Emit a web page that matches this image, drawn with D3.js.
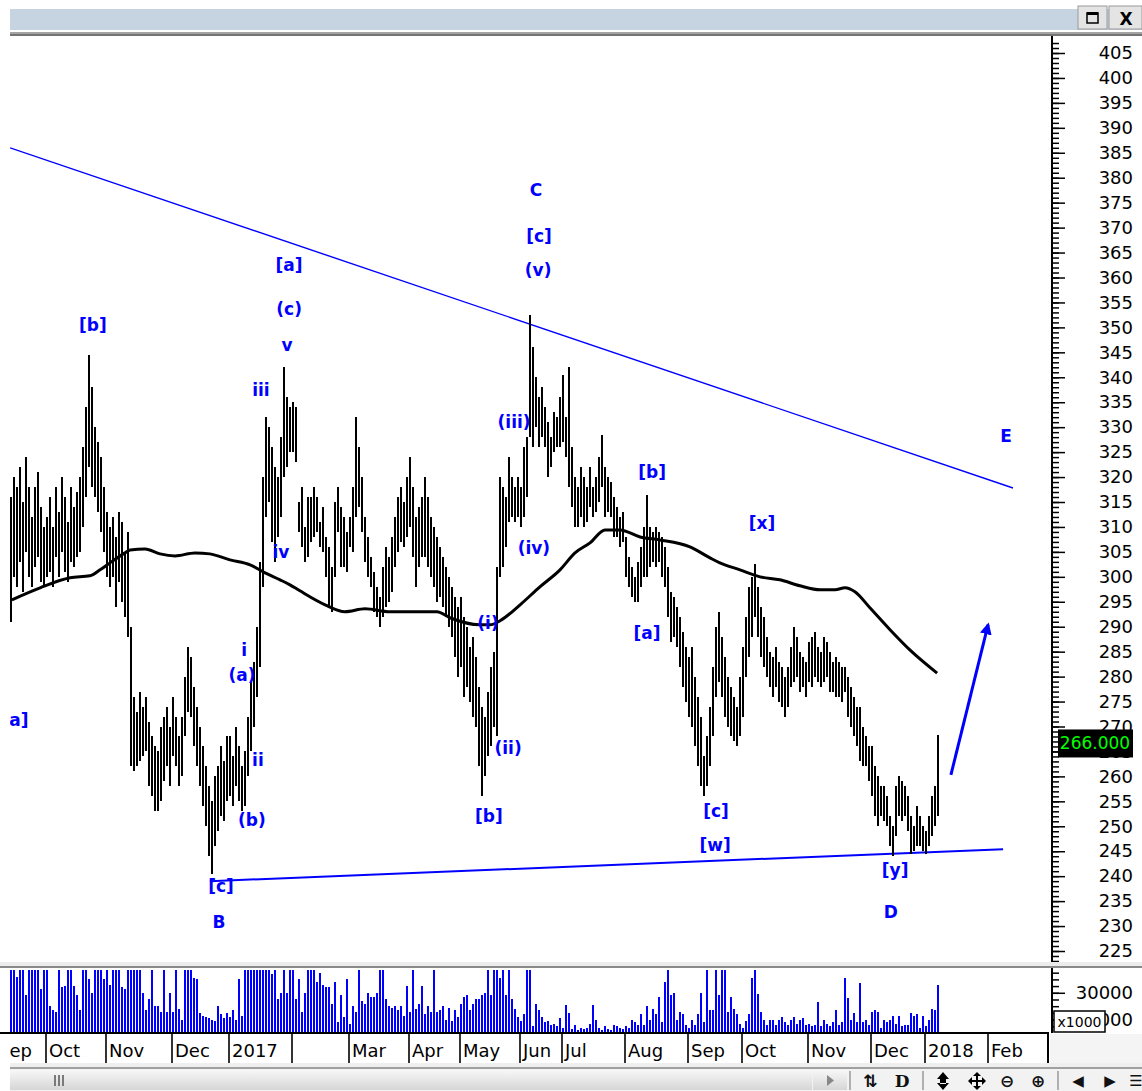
<!DOCTYPE html>
<html>
<head>
<meta charset="utf-8">
<script src="https://cdn.jsdelivr.net/npm/d3@7"></script>
<style>
  body { margin: 0; background: #fff; }
  svg { display: block; font-family: 'DejaVu Sans', sans-serif; }
</style>
</head>
<body>
<svg id="chart"></svg>
<script>
// daily bars, Sep 2016 .. early Jan 2018 (one entry per trading day)
const barHigh = [
  316, 320, 318, 322, 315, 324, 318, 312, 318, 321, 314, 310,
  312, 316, 310, 318, 313, 320, 316, 311, 318, 314, 317, 320, 326, 334, 344.5, 338, 330, 327, 324, 318,
  313, 310, 312, 308, 313, 311, 305, 309, 290, 276, 273, 277, 274, 276, 271, 268, 266, 265, 270, 272, 274, 270,
  276, 272, 268, 272, 280, 286, 284, 278, 274, 270, 266, 262, 258, 255, 260, 262, 266, 263, 268,
  268, 264, 270, 266, 262, 265, 272, 279, 283, 290, 303, 320, 332, 330, 326, 322, 320, 328, 342, 336, 334,
  335, 334, 315, 318, 310, 316, 316, 318, 316, 311, 314, 308, 306, 302, 315, 318, 314, 312, 309,
  312, 318, 332, 326, 320, 312, 308, 304, 301, 298, 296, 302, 306, 304, 308, 312, 316, 318, 315, 320,
  324, 318, 312, 314, 316, 320, 316, 312, 310, 308, 306, 304, 302, 300, 298, 296, 294,
  296, 292, 290, 286, 288, 284, 278, 274, 272, 277, 282, 285, 302, 320, 318, 316, 324, 320, 318, 320,
  318, 326, 328, 352.5, 346, 340, 336, 338, 334, 331, 328, 333, 332, 336,
  340.5, 332, 342, 326, 320, 318, 322, 320, 318, 322, 318, 320, 324, 328.5, 322, 320, 319, 316, 314, 312, 313,
  308, 304, 302, 300, 303, 306, 310, 316.5, 310, 309, 310, 309, 308, 306, 302, 297, 296, 294, 292, 289, 286,
  284, 286, 280, 276, 272, 264, 268, 274, 282, 290, 293, 288, 284, 280, 278, 276, 274, 280,
  286, 292, 298, 300, 302.5, 298, 294, 292, 288, 285, 284, 286, 283, 282, 280, 282, 286, 290, 288, 285, 284, 283,
  287, 288, 289, 286, 285, 288, 287, 285, 283, 284, 283, 282, 282, 280, 278, 276, 274, 274, 270, 268, 266,
  266, 262, 260, 258, 258, 256, 252, 250, 258, 260, 259, 258, 256, 252, 250, 254, 252, 250,
  249, 252, 256, 258, 268.3
];
const barLow = [
  291, 300, 298, 303, 297, 305, 300, 298, 302, 304, 299, 298,
  300, 301, 298, 304, 300, 305, 301, 299, 303, 302, 304, 305, 310, 316, 322, 318, 316, 313, 309, 305,
  300, 298, 300, 294, 299, 295, 292, 288, 262, 261, 262, 263, 264, 265, 258, 256, 253, 253, 255, 259, 262, 258,
  264, 262, 258, 260, 268, 273, 272, 266, 262, 258, 254, 250, 244, 240.5, 246, 249, 252, 251, 255,
  256, 254, 258, 255, 253, 254, 260, 265, 270, 276, 282, 298, 312, 315, 307, 303, 308, 312, 320, 322, 325,
  325, 323, 309, 306, 303, 304, 307, 308, 309, 306, 305, 300, 294, 293, 300, 309, 302, 302, 301,
  306, 305, 312, 314, 309, 303, 300, 298, 293, 292, 290, 292, 294, 295, 297, 302, 305, 307, 306, 308,
  310, 304, 298, 302, 304, 304, 302, 300, 298, 295, 296, 294, 292, 290, 288, 284, 280,
  282, 276, 278, 275, 272, 270, 262, 256, 260, 264, 266, 270, 268, 300, 302, 306, 311, 312, 311, 312,
  310, 312, 316, 328, 326, 330, 326, 328, 326, 320, 322, 325, 326, 326,
  327, 324, 318, 314, 310, 310, 312, 310, 311, 314, 312, 313, 315, 318, 312, 313, 312, 308, 308, 306, 307,
  300, 298, 296, 295, 295, 298, 300, 300, 302, 303, 302, 303, 300, 298, 292, 287, 288, 286, 282, 278, 275,
  272, 270, 266, 262, 258, 256, 258, 262, 268, 276, 279, 276, 272, 270, 268, 267, 266, 268,
  272, 280, 284, 288, 292, 288, 284, 282, 280, 278, 276, 278, 275, 274, 272, 274, 278, 279, 280, 277, 278, 276,
  279, 278, 280, 279, 278, 279, 280, 277, 277, 276, 276, 275, 277, 272, 270, 268, 266, 263, 262, 262, 259,
  256, 252, 250, 252, 251, 250, 246, 244, 248, 252, 251, 252, 249, 244.5, 245, 246, 246, 245,
  244.5, 246, 248, 250, 252
];
// volume in thousands
const barVol = [
  47, 47, 42, 47, 47, 28, 47, 47, 47, 47, 33, 47,
  47, 20, 17, 16, 47, 34, 35, 47, 47, 35, 28, 17, 47, 47, 40, 30, 47, 47, 47, 40,
  47, 36, 47, 47, 47, 34, 33, 47, 47, 47, 47, 47, 30, 17, 25, 47, 20, 20, 16, 47, 16, 30,
  16, 47, 18, 10, 47, 47, 47, 41, 40, 15, 13, 12, 11, 10, 9, 20, 14, 11, 15,
  12, 17, 10, 40, 13, 47, 47, 47, 47, 47, 47, 47, 47, 47, 44, 47, 25, 30, 47, 30, 47,
  47, 25, 40, 16, 30, 47, 47, 47, 38, 45, 36, 34, 34, 22, 38, 8, 28, 12, 40,
  7, 20, 16, 47, 24, 22, 30, 27, 27, 30, 47, 47, 25, 20, 19, 20, 17, 20, 13, 35,
  16, 47, 18, 22, 35, 14, 20, 16, 47, 16, 17, 20, 10, 19, 9, 17, 12,
  22, 27, 28, 17, 22, 25, 25, 28, 30, 47, 28, 47, 47, 41, 47, 28, 47, 25, 18, 12,
  9, 14, 47, 47, 5, 22, 17, 12, 8, 9, 6, 7, 5, 11,
  4, 21, 15, 3, 6, 2, 4, 3, 4, 7, 21, 10, 4, 2, 5, 3, 2, 6, 5, 4, 3,
  5, 4, 10, 8, 6, 14, 6, 20, 10, 18, 14, 27, 8, 38, 47, 28, 30, 10, 16, 14, 6,
  4, 10, 6, 14, 30, 8, 47, 17, 17, 47, 28, 47, 47, 16, 27, 18, 14, 7,
  4, 9, 14, 41, 47, 29, 16, 10, 6, 10, 10, 6, 10, 12, 8, 6, 10, 12, 7, 10, 11, 6,
  7, 5, 6, 23, 5, 10, 7, 5, 8, 17, 6, 8, 41, 26, 10, 15, 8, 37, 8, 10, 6,
  16, 17, 16, 4, 10, 8, 10, 13, 7, 13, 5, 6, 6, 15, 13, 14, 4, 13,
  5, 10, 18, 17, 36
];

// moving average, read at points along its curve (bar index, price)
const maIdx = [0.3, 9.7, 19.7, 26.3, 29.7, 33, 38, 39.7, 44.7, 49.7, 54.7, 61.3, 66.3, 73, 79.7, 84.7, 89.7, 93, 96.3,
  104.7, 111.3, 118, 126.3, 142, 146.3, 156.3, 159.7, 163, 169.7, 176.3, 183, 188, 193, 198, 203, 209.7, 216.3,
  226.3, 233, 236.3, 243, 249.7, 256.3, 263, 269.7, 274.7, 278, 281.3, 286.3, 293, 299.7, 308.7];
const maVal = [295.4, 297.8, 299.8, 300.2, 301.4, 302.8, 304.8, 305.4, 305.6, 304.6, 304.2, 304.8, 304.6, 303.4, 302.4, 300.8, 299.4, 298.4, 297.2,
  294.4, 293, 293.6, 293, 293, 291.8, 290.4, 290.4, 291.2, 294.4, 298, 301.4, 304.8, 306.8, 309.4, 309.4, 308, 307.4,
  306, 303.8, 302.8, 301.4, 300, 299.4, 298.2, 297.4, 297.4, 297.8, 297, 293.8, 289.4, 285.3, 280.7];

// trend lines and projection arrow (bar index, price)
const upperTrend = [[-0.3, 386], [334, 317.8]];
const lowerTrend = [[66.3, 239], [330.7, 245.4]];
const arrowPath = [[313.3, 260.3], [325.7, 290.4]];

// wave labels
const waveText = ['[b]', '[a]', '(c)', 'v', 'iii', 'iv', 'i', '(a)', 'ii', '(b)', '[c]', 'B', '[a]',
  'C', '[c]', '(v)', '(iii)', '(iv)', '(i)', '(ii)', '[b]', '[b]', '[a]', '[x]', '[c]', '[w]', '[y]', 'D', 'E'];
const waveIdx = [27.3, 92.7, 92.7, 92, 83.3, 90, 77.7, 77, 82.3, 80.3, 70, 69.3, 1.3,
  175, 176, 175.7, 167.7, 174.3, 159, 165.7, 159.3, 213.7, 212, 250.3, 235, 234.7, 294.7, 293.3, 331.7];
const wavePrice = [350.5, 362.5, 353.7, 346.5, 337.4, 305, 285.3, 280.3, 263.3, 251.3, 238, 230.8, 271.3,
  377.5, 368.3, 361.5, 331, 305.8, 290.7, 265.7, 252.1, 321, 288.7, 310.8, 253.1, 246.2, 241.2, 232.8, 328.2];

// time axis
const monthLabels = ['Sep', 'Oct', 'Nov', 'Dec', '2017', '', 'Mar', 'Apr', 'May', 'Jun', 'Jul', 'Aug', 'Sep', 'Oct', 'Nov', 'Dec', '2018', 'Feb'];
const monthStart = [-5, 12, 32, 54, 73, 94, 113, 133, 150, 170, 184, 205, 226, 244, 266, 287, 305, 326];
const lastPrice = 266;
const volLabels = [30, 10];

const W = 1142, H = 1091;
const svg = d3.select('#chart').attr('width', W).attr('height', H);

const x = d3.scaleLinear().domain([0, 346]).range([11, 1049]);
const y = d3.scaleLinear().domain([225, 405]).range([951, 53]);
const yv = d3.scaleLinear().domain([0, 47]).range([1033, 970]).clamp(true);

const defs = svg.append('defs');
defs.append('clipPath').attr('id', 'plot-clip')
  .append('rect').attr('x', 10).attr('y', 36).attr('width', 1040).attr('height', 926);
defs.append('clipPath').attr('id', 'date-clip')
  .append('rect').attr('x', 9).attr('y', 1030).attr('width', 1040).attr('height', 36);
defs.append('marker').attr('id', 'arrowhead')
  .attr('viewBox', '0 0 10 10').attr('refX', 8).attr('refY', 5)
  .attr('markerWidth', 4).attr('markerHeight', 4).attr('orient', 'auto')
  .append('path').attr('d', 'M0,0 L10,5 L0,10 z').attr('fill', '#0000ff');
const sg = defs.append('linearGradient').attr('id', 'scrollgrad').attr('x1', 0).attr('x2', 0).attr('y1', 0).attr('y2', 1);
sg.append('stop').attr('offset', '0%').attr('stop-color', '#f7f7f7');
sg.append('stop').attr('offset', '100%').attr('stop-color', '#d6d6d6');

svg.append('rect').attr('width', W).attr('height', H).attr('fill', '#fff');

// top title strip
svg.append('rect').attr('x', 10).attr('y', 9).attr('width', W - 10).attr('height', 21).attr('fill', '#c6d3e0');
svg.append('rect').attr('x', 10).attr('y', 32).attr('width', W - 10).attr('height', 2).attr('fill', '#a4a4a4');
svg.append('rect').attr('x', 10).attr('y', 34).attr('width', W - 10).attr('height', 2).attr('fill', '#747474');
[[1078, 29], [1109, 33]].forEach(([bx, bw]) => {
  svg.append('rect').attr('x', bx).attr('y', 6).attr('width', bw).attr('height', 23)
    .attr('fill', '#e4e4e4').attr('stroke', '#9a9a9a');
});
svg.append('rect').attr('x', 1087).attr('y', 13).attr('width', 11).attr('height', 10)
  .attr('fill', 'none').attr('stroke', '#000').attr('stroke-width', 1.5);
svg.append('rect').attr('x', 1087).attr('y', 12).attr('width', 11).attr('height', 3).attr('fill', '#000');
svg.append('text').attr('x', 1126).attr('y', 25).attr('text-anchor', 'middle')
  .attr('font-size', 17).attr('font-weight', 'bold').text('X');

// price plot
const plot = svg.append('g').attr('clip-path', 'url(#plot-clip)');
const trend = d3.line().x(d => x(d[0])).y(d => y(d[1]));

plot.append('path').datum(upperTrend).attr('d', trend)
  .attr('stroke', '#0000ff').attr('stroke-width', 1.4).attr('fill', 'none');
plot.append('path').datum(lowerTrend).attr('d', trend)
  .attr('stroke', '#0000ff').attr('stroke-width', 2).attr('fill', 'none');

plot.append('g').attr('shape-rendering', 'crispEdges')
  .selectAll('line').data(barHigh).join('line')
  .attr('x1', (d, i) => x(i)).attr('x2', (d, i) => x(i))
  .attr('y1', d => y(d)).attr('y2', (d, i) => y(barLow[i]))
  .attr('stroke', '#000').attr('stroke-width', 2);

const maData = maIdx.map((d, i) => [d, maVal[i]]);
plot.append('path').datum(maData)
  .attr('d', d3.line().x(d => x(d[0])).y(d => y(d[1])).curve(d3.curveMonotoneX))
  .attr('stroke', '#000').attr('stroke-width', 3).attr('fill', 'none');

plot.append('path').datum(arrowPath).attr('d', trend)
  .attr('stroke', '#0000ff').attr('stroke-width', 3).attr('fill', 'none')
  .attr('marker-end', 'url(#arrowhead)');

plot.append('g').selectAll('text').data(waveText).join('text')
  .attr('x', (d, i) => x(waveIdx[i])).attr('y', (d, i) => y(wavePrice[i]))
  .attr('text-anchor', 'middle').attr('dominant-baseline', 'central')
  .attr('font-size', 17).attr('font-weight', 'bold').attr('fill', '#0000ff')
  .text(d => d);

// price axis
const minorAxis = d3.axisRight(y).tickValues(d3.range(222, 408)).tickSize(7).tickSizeOuter(0).tickFormat('');
const majorAxis = d3.axisRight(y).tickValues(d3.range(225, 406, 5)).tickSize(13).tickSizeOuter(0).tickFormat(d3.format('d'));
const pa1 = svg.append('g').attr('transform', 'translate(1052,0)').call(minorAxis);
const pa2 = svg.append('g').attr('transform', 'translate(1052,0)').call(majorAxis);
[pa1, pa2].forEach(g => {
  g.select('.domain').remove();
  g.selectAll('line').attr('stroke', '#000').attr('stroke-width', 1.5);
});
pa2.selectAll('text').attr('x', 81).attr('text-anchor', 'end')
  .attr('font-size', 18).attr('font-family', 'DejaVu Sans').attr('fill', '#000');

svg.append('rect').attr('x', 1058).attr('y', y(lastPrice) - 17).attr('width', 75).attr('height', 28).attr('fill', '#000');
svg.append('text').attr('x', 1095).attr('y', y(lastPrice) - 3).attr('text-anchor', 'middle')
  .attr('dominant-baseline', 'central').attr('font-size', 17).attr('fill', '#00ff00')
  .text(d3.format('.3f')(lastPrice));

// panel separator
svg.append('rect').attr('x', 0).attr('y', 962).attr('width', W).attr('height', 4).attr('fill', '#ececec');
svg.append('rect').attr('x', 0).attr('y', 966).attr('width', W).attr('height', 2).attr('fill', '#8a8a8a');

// volume panel
svg.append('g').attr('shape-rendering', 'crispEdges')
  .selectAll('rect').data(barVol).join('rect')
  .attr('x', (d, i) => x(i) - 1).attr('width', 2)
  .attr('y', d => yv(d)).attr('height', d => 1033 - yv(d))
  .attr('fill', '#0000ff');

const vMinor = d3.axisRight(yv).tickValues(d3.range(5, 46, 5)).tickSize(7).tickSizeOuter(0).tickFormat('');
const vMajor = d3.axisRight(yv).tickValues(volLabels).tickSize(13).tickSizeOuter(0).tickFormat(d => d3.format('d')(d * 1000));
const va1 = svg.append('g').attr('transform', 'translate(1052,0)').call(vMinor);
const va2 = svg.append('g').attr('transform', 'translate(1052,0)').call(vMajor);
[va1, va2].forEach(g => {
  g.select('.domain').remove();
  g.selectAll('line').attr('stroke', '#000').attr('stroke-width', 1.5);
});
va2.select('.tick:last-of-type line').attr('x2', 7);
va2.selectAll('text').attr('x', 81).attr('text-anchor', 'end')
  .attr('font-size', 18).attr('font-family', 'DejaVu Sans').attr('fill', '#000');
svg.append('rect').attr('x', 1054).attr('y', 1011).attr('width', 51).attr('height', 21)
  .attr('fill', '#fff').attr('stroke', '#000').attr('stroke-width', 1.5);
svg.append('text').attr('x', 1079.5).attr('y', 1027).attr('text-anchor', 'middle')
  .attr('font-size', 14).text('x1000');

// axis line on the right
svg.append('line').attr('x1', 1052).attr('x2', 1052).attr('y1', 36).attr('y2', 962)
  .attr('stroke', '#000').attr('stroke-width', 2);
svg.append('line').attr('x1', 1052).attr('x2', 1052).attr('y1', 968).attr('y2', 1033)
  .attr('stroke', '#000').attr('stroke-width', 2);

// time axis
svg.append('rect').attr('x', 1050).attr('y', 1034).attr('width', W - 1050).attr('height', 34).attr('fill', '#f4f4f4');
const xAxis = d3.axisBottom(x).tickValues(monthStart).tickSize(30).tickSizeOuter(0)
  .tickFormat((d, i) => monthLabels[i]);
const xa = svg.append('g').attr('clip-path', 'url(#date-clip)')
  .append('g').attr('transform', 'translate(-1.5,1033)').call(xAxis);
xa.select('.domain').remove();
xa.selectAll('line').attr('stroke', '#000').attr('stroke-width', 1.6);
xa.selectAll('text').attr('x', 3).attr('y', 24).attr('dy', 0).attr('text-anchor', 'start')
  .attr('font-size', 18).attr('font-family', 'DejaVu Sans').attr('fill', '#000');
svg.append('line').attr('x1', 0).attr('x2', 1049).attr('y1', 1033).attr('y2', 1033)
  .attr('stroke', '#000').attr('stroke-width', 2);
svg.append('line').attr('x1', x(346) - 1).attr('x2', x(346) - 1).attr('y1', 1033).attr('y2', 1063)
  .attr('stroke', '#000').attr('stroke-width', 2);

// bottom scrollbar and toolbar
svg.append('rect').attr('x', 10).attr('y', 1063).attr('width', W - 10).attr('height', 4).attr('fill', '#efefef');
svg.append('rect').attr('x', 10).attr('y', 1067).attr('width', W - 10).attr('height', 2).attr('fill', '#a0a0a0');
svg.append('rect').attr('x', 10).attr('y', 1069).attr('width', W - 10).attr('height', 22).attr('fill', '#f2f2f2');
svg.append('rect').attr('x', 10).attr('y', 1070).attr('width', 802).attr('height', 20).attr('fill', 'url(#scrollgrad)');
[54, 58, 62].forEach(gx => {
  svg.append('rect').attr('x', gx).attr('y', 1075).attr('width', 2).attr('height', 11).attr('fill', '#7a7a7a');
});
svg.append('rect').attr('x', 813).attr('y', 1070).attr('width', 34).attr('height', 20).attr('fill', 'url(#scrollgrad)');
svg.append('path').attr('d', 'M827,1075 L834,1080.5 L827,1086 z').attr('fill', '#888');
[850, 923, 1058].forEach(sx => {
  svg.append('line').attr('x1', sx).attr('x2', sx).attr('y1', 1071).attr('y2', 1090).attr('stroke', '#9a9a9a').attr('stroke-width', 1.5);
});
const icons = [
  { t: '⇅', x: 870, f: 'DejaVu Sans', s: 17 },
  { t: 'D', x: 902, f: 'DejaVu Serif', s: 17 },
  { t: '⊖', x: 1007, f: 'DejaVu Sans', s: 17 },
  { t: '⊕', x: 1038, f: 'DejaVu Sans', s: 17 },
  { t: '◀', x: 1078, f: 'DejaVu Sans', s: 15 },
  { t: '▶', x: 1110, f: 'DejaVu Sans', s: 15 },
  { t: '☰', x: 1136, f: 'DejaVu Sans', s: 15 }
];
svg.append('g').selectAll('text').data(icons).join('text')
  .attr('x', d => d.x).attr('y', 1081).attr('text-anchor', 'middle').attr('dominant-baseline', 'central')
  .attr('font-family', d => d.f).attr('font-size', d => d.s).attr('font-weight', 'bold').attr('fill', '#111')
  .text(d => d.t);
// up-down and move icons
svg.append('path').attr('d', 'M943,1072 L949,1079 L937,1079 z M943,1090 L949,1083 L937,1083 z M940,1078 h6 v6 h-6 z').attr('fill', '#000');
svg.append('path').attr('d', 'M977,1072 l4,4 h-3 v4 h4 v-3 l4,4 l-4,4 v-3 h-4 v4 h3 l-4,4 l-4,-4 h3 v-4 h-4 v3 l-4,-4 l4,-4 v3 h4 v-4 h-3 z').attr('fill', '#000');
</script>
</body>
</html>
